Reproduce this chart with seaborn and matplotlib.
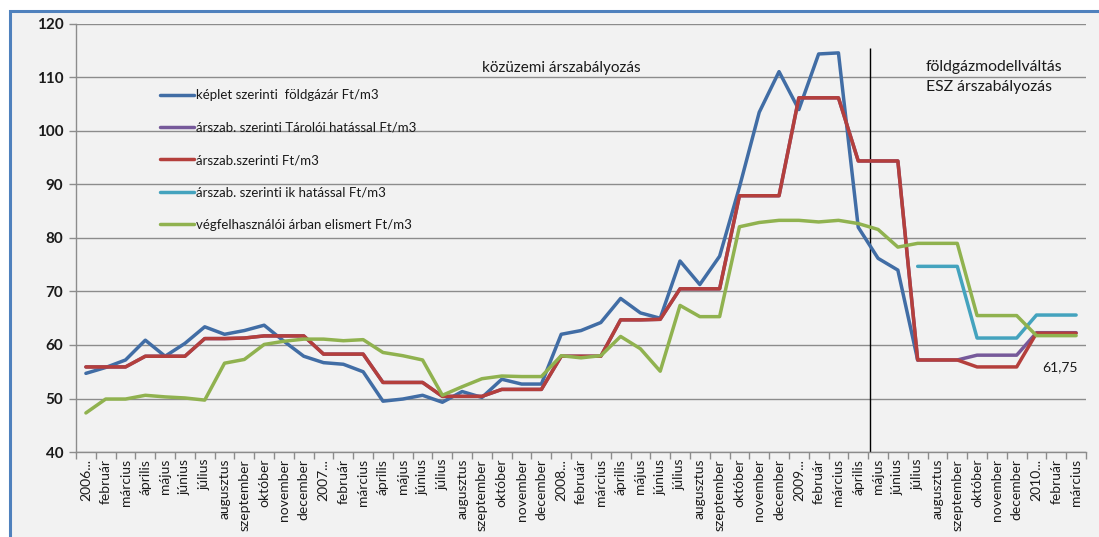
import numpy as np
import pandas as pd
import matplotlib
matplotlib.use("Agg")
import matplotlib.pyplot as plt
from matplotlib.patches import Rectangle
from matplotlib.lines import Line2D
import seaborn as sns

# Month labels, January 2006 - March 2010
months = ["február", "március", "április", "május", "június", "július",
          "augusztus", "szeptember", "október", "november", "december"]
labels = (["2006..."] + months + ["2007..."] + months + ["2008..."] + months
          + ["2009..."] + months + ["2010...", "február", "március"])

nan = np.nan

# Ft/m3 series
keplet = [54.7, 55.8, 57.2, 60.9, 57.9, 60.3, 63.4, 62.0, 62.7, 63.7, 60.7, 57.9,
          56.7, 56.4, 55.0, 49.5, 49.9, 50.6, 49.3, 51.3, 50.2, 53.6, 52.7, 52.7,
          62.0, 62.7, 64.2, 68.7, 66.0, 65.0, 75.7, 71.3, 76.6, 89.5, 103.5, 111.1,
          104.0, 114.4, 114.6, 82.0, 76.2, 74.0, 57.2, nan, nan, nan, nan, nan,
          nan, nan, nan]

arszab = [55.9, 55.9, 55.9, 57.9, 57.9, 57.9, 61.2, 61.2, 61.3, 61.7, 61.7, 61.7,
          58.3, 58.3, 58.3, 53.0, 53.0, 53.0, 50.4, 50.4, 50.4, 51.7, 51.7, 51.7,
          57.9, 57.9, 57.9, 64.7, 64.7, 64.8, 70.5, 70.5, 70.5, 87.9, 87.9, 87.9,
          106.2, 106.2, 106.2, 94.4, 94.4, 94.4, 57.2, 57.2, 57.2, 55.9, 55.9, 55.9,
          62.2, 62.2, 62.2]

tarolo = arszab[:45] + [58.1, 58.1, 58.1, 62.3, 62.3, 62.3]

ik = [nan] * 42 + [74.7, 74.7, 74.7, 61.3, 61.3, 61.3, 65.6, 65.6, 65.6]

vegfelh = [47.3, 49.9, 49.9, 50.6, 50.3, 50.1, 49.7, 56.6, 57.3, 60.1, 60.7, 61.1,
           61.1, 60.8, 61.0, 58.6, 58.0, 57.2, 50.6, 52.2, 53.7, 54.2, 54.1, 54.1,
           58.0, 57.6, 58.0, 61.6, 59.3, 55.1, 67.4, 65.3, 65.3, 82.1, 82.9, 83.3,
           83.3, 83.0, 83.3, 82.7, 81.6, 78.3, 79.0, 79.0, 79.0, 65.5, 65.5, 65.5,
           61.75, 61.75, 61.75]

series_names = ["képlet szerinti  földgázár Ft/m3",
                "árszab. szerinti Tárolói hatással Ft/m3",
                "árszab.szerinti Ft/m3",
                "árszab. szerinti ik hatással Ft/m3",
                "végfelhasználói árban elismert Ft/m3"]
series_values = [keplet, tarolo, arszab, ik, vegfelh]
colors = ["#416DA5", "#76599A", "#B43F3C", "#44A3BE", "#90B24F"]

frames = []
for name, vals in zip(series_names, series_values):
    frames.append(pd.DataFrame({"pos": np.arange(len(labels)),
                                "value": vals, "series": name}))
df = pd.concat(frames, ignore_index=True).dropna()

sns.set_style("white")
plt.rcParams["font.family"] = ["Lato", "DejaVu Sans"]

fig = plt.figure(figsize=(10.99, 5.37), dpi=100, facecolor="white")
# chart area frame
fig.patches.append(Rectangle((10 / 1099, -0.05), 1.2, (537 - 11) / 537 + 0.05,
                             transform=fig.transFigure, facecolor="#F2F2F2",
                             edgecolor="#4F81BD", linewidth=2.2, zorder=-5))

ax = fig.add_axes([76 / 1099, (537 - 452) / 537, (1086 - 76) / 1099, (452 - 24) / 537])
ax.set_facecolor("none")

sns.lineplot(data=df, x="pos", y="value", hue="series", hue_order=series_names,
             palette=colors, estimator=None, sort=False, linewidth=2.5,
             legend=False, ax=ax)

ax.set_xlim(-0.5, len(labels) - 0.5)
ax.set_ylim(40, 120)
ax.set_yticks(np.arange(40, 121, 10))
ax.yaxis.grid(True, color="#8C8C8C", linewidth=1.0)
ax.set_axisbelow(True)
ax.set_xlabel("")
ax.set_ylabel("")

for s in ["top", "right"]:
    ax.spines[s].set_visible(False)
for s in ["left", "bottom"]:
    ax.spines[s].set_color("#8C8C8C")
    ax.spines[s].set_linewidth(1.0)

ax.set_xticks(np.arange(len(labels)))
ax.set_xticklabels(labels, rotation=90, fontsize=10, color="#1A1A1A")
ax.set_xticks(np.arange(-0.5, len(labels)), minor=True)
ax.tick_params(axis="x", which="major", length=0, pad=5)
ax.tick_params(axis="x", which="minor", length=5, width=1, color="#8C8C8C",
               direction="out", bottom=True)
ax.tick_params(axis="y", length=5, width=1, color="#8C8C8C", direction="out",
               labelsize=11, labelcolor="#1A1A1A", pad=4, left=True)
for t in ax.get_yticklabels():
    t.set_fontweight("bold")

# regulation periods
ax.vlines(39.6, 40, 115.5, color="black", linewidth=1.0, zorder=1)
ax.text(24.0, 111.7, "közüzemi árszabályozás", ha="center", va="center",
        fontsize=11, color="#1A1A1A")
ax.text(42.4, 112.0, "földgázmodellváltás", ha="left", va="center",
        fontsize=11.3, color="#1A1A1A")
ax.text(42.4, 108.2, "ESZ árszabályozás", ha="left", va="center",
        fontsize=11.3, color="#1A1A1A")
ax.text(50.1, 55.8, f"{vegfelh[-1]:.2f}".replace(".", ","), ha="right",
        va="center", fontsize=10, color="#1A1A1A")

handles = [Line2D([], [], color=c, linewidth=2.5) for c in colors]
leg = ax.legend(handles, series_names, loc="upper left",
                bbox_to_anchor=(0.078, 0.86), frameon=False, fontsize=9.5,
                handlelength=2.6, handletextpad=0.1, labelspacing=1.55,
                borderaxespad=0)
for t in leg.get_texts():
    t.set_color("#1A1A1A")

fig.savefig("out.png", dpi=100, facecolor=fig.get_facecolor())
